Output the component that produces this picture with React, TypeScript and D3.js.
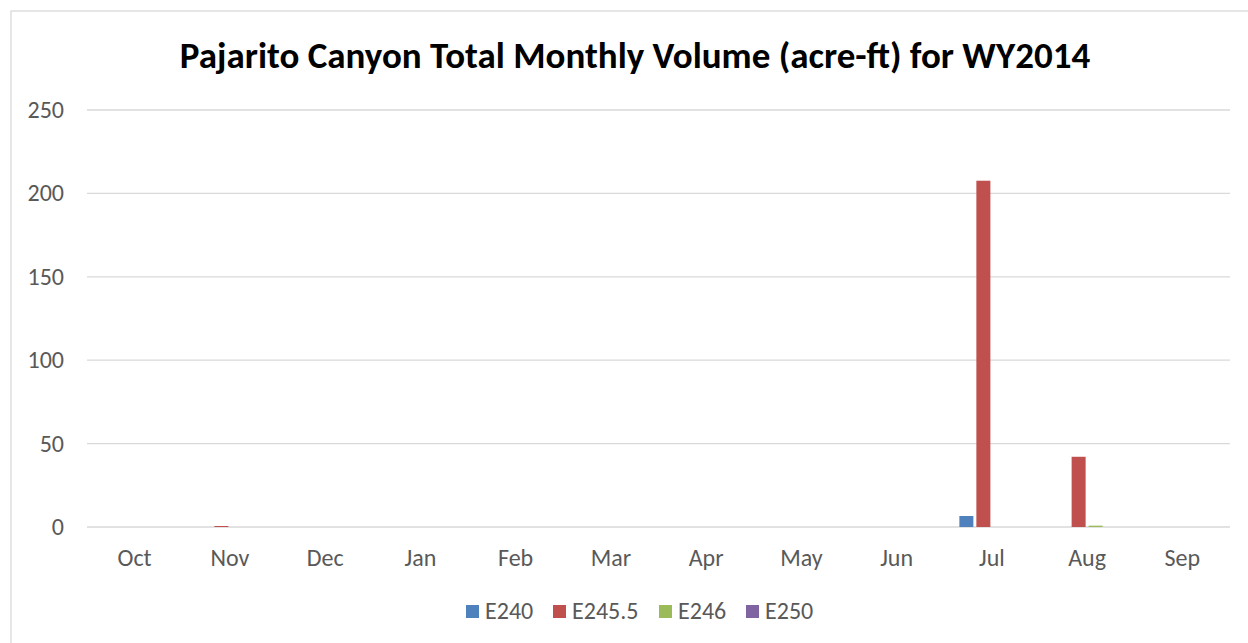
import React, { useEffect, useRef } from "react";
import * as d3 from "d3";

const months = ["Oct", "Nov", "Dec", "Jan", "Feb", "Mar", "Apr", "May", "Jun", "Jul", "Aug", "Sep"];
const seriesNames = ["E240", "E245.5", "E246", "E250"];
const e240 = [0, 0, 0, 0, 0, 0, 0, 0, 0, 6.6, 0, 0];
const e2455 = [0, 0.6, 0, 0, 0, 0, 0, 0, 0, 207.6, 42.1, 0];
const e246 = [0, 0, 0, 0, 0, 0, 0, 0, 0, 0, 0.8, 0];
const e250 = [0, 0, 0, 0, 0, 0, 0, 0, 0, 0, 0, 0];
const seriesColors = ["#4F81BD", "#C0504D", "#9BBB59", "#8064A2"];
const yTicks = [0, 50, 100, 150, 200, 250];

const FONT = "Calibri, Carlito, 'Open Sans', sans-serif";

export default function App() {
    const svgRef = useRef<SVGSVGElement>(null);

    useEffect(() => {
        const svg = d3.select(svgRef.current);
        svg.selectAll("*").remove();

        const width = 1248;
        const height = 643;
        const values = [e240, e2455, e246, e250];

        // --- chart frame ---
        svg.append("rect")
            .attr("x", 11).attr("y", 11)
            .attr("width", width + 10).attr("height", height + 10)
            .attr("fill", "#fff")
            .attr("stroke", "#d9d9d9").attr("stroke-width", 1.3);

        // --- title ---
        svg.append("text")
            .attr("x", 635).attr("y", 68)
            .attr("text-anchor", "middle")
            .attr("font-family", FONT)
            .attr("font-weight", "bold")
            .attr("font-size", 37)
            .attr("fill", "#000")
            .text("Pajarito Canyon Total Monthly Volume (acre-ft) for WY2014");

        // --- scales ---
        const x0 = d3.scaleBand()
            .domain(months)
            .range([87, 1230])
            .paddingInner(0.286)
            .paddingOuter(0.143);

        const x1 = d3.scaleBand()
            .domain(seriesNames)
            .range([0, x0.bandwidth()]);

        const y = d3.scaleLinear().domain([0, 250]).range([527, 110]);

        // --- gridlines ---
        svg.append("g")
            .selectAll("line")
            .data(yTicks)
            .join("line")
            .attr("x1", 87).attr("x2", 1230)
            .attr("y1", d => y(d)).attr("y2", d => y(d))
            .attr("stroke", "#d9d9d9")
            .attr("stroke-width", 1.3);

        // --- y labels ---
        svg.append("g")
            .selectAll("text")
            .data(yTicks)
            .join("text")
            .attr("x", 64)
            .attr("y", d => y(d))
            .attr("dy", "0.33em")
            .attr("text-anchor", "end")
            .attr("font-family", FONT)
            .attr("font-size", 24)
            .attr("fill", "#595959")
            .text(d => d);

        // --- x labels ---
        svg.append("g")
            .selectAll("text")
            .data(months)
            .join("text")
            .attr("x", d => (x0(d) ?? 0) + x0.bandwidth() / 2)
            .attr("y", 566)
            .attr("text-anchor", "middle")
            .attr("font-family", FONT)
            .attr("font-size", 24)
            .attr("fill", "#595959")
            .text(d => d);

        // --- bars ---
        seriesNames.forEach((name, si) => {
            svg.append("g")
                .selectAll("rect")
                .data(months.map((m, i) => ({ m, v: values[si][i] })))
                .join("rect")
                .attr("x", d => (x0(d.m) ?? 0) + (x1(name) ?? 0) + 1.5)
                .attr("width", x1.bandwidth() - 3)
                .attr("y", d => y(d.v))
                .attr("height", d => y(0) - y(d.v))
                .attr("fill", seriesColors[si]);
        });

        // --- legend ---
        const legendX = [466, 553, 659, 746];
        const legend = svg.append("g");
        seriesNames.forEach((name, i) => {
            legend.append("rect")
                .attr("x", legendX[i]).attr("y", 605)
                .attr("width", 13).attr("height", 13)
                .attr("fill", seriesColors[i]);
            legend.append("text")
                .attr("x", legendX[i] + 19).attr("y", 611.5)
                .attr("dy", "0.33em")
                .attr("font-family", FONT)
                .attr("font-size", 24)
                .attr("fill", "#595959")
                .text(name);
        });
    }, []);

    return (
        <svg
            ref={svgRef}
            width={1248}
            height={643}
            style={{ position: "absolute", left: 0, top: 0, background: "#fff" }}
        />
    );
}
